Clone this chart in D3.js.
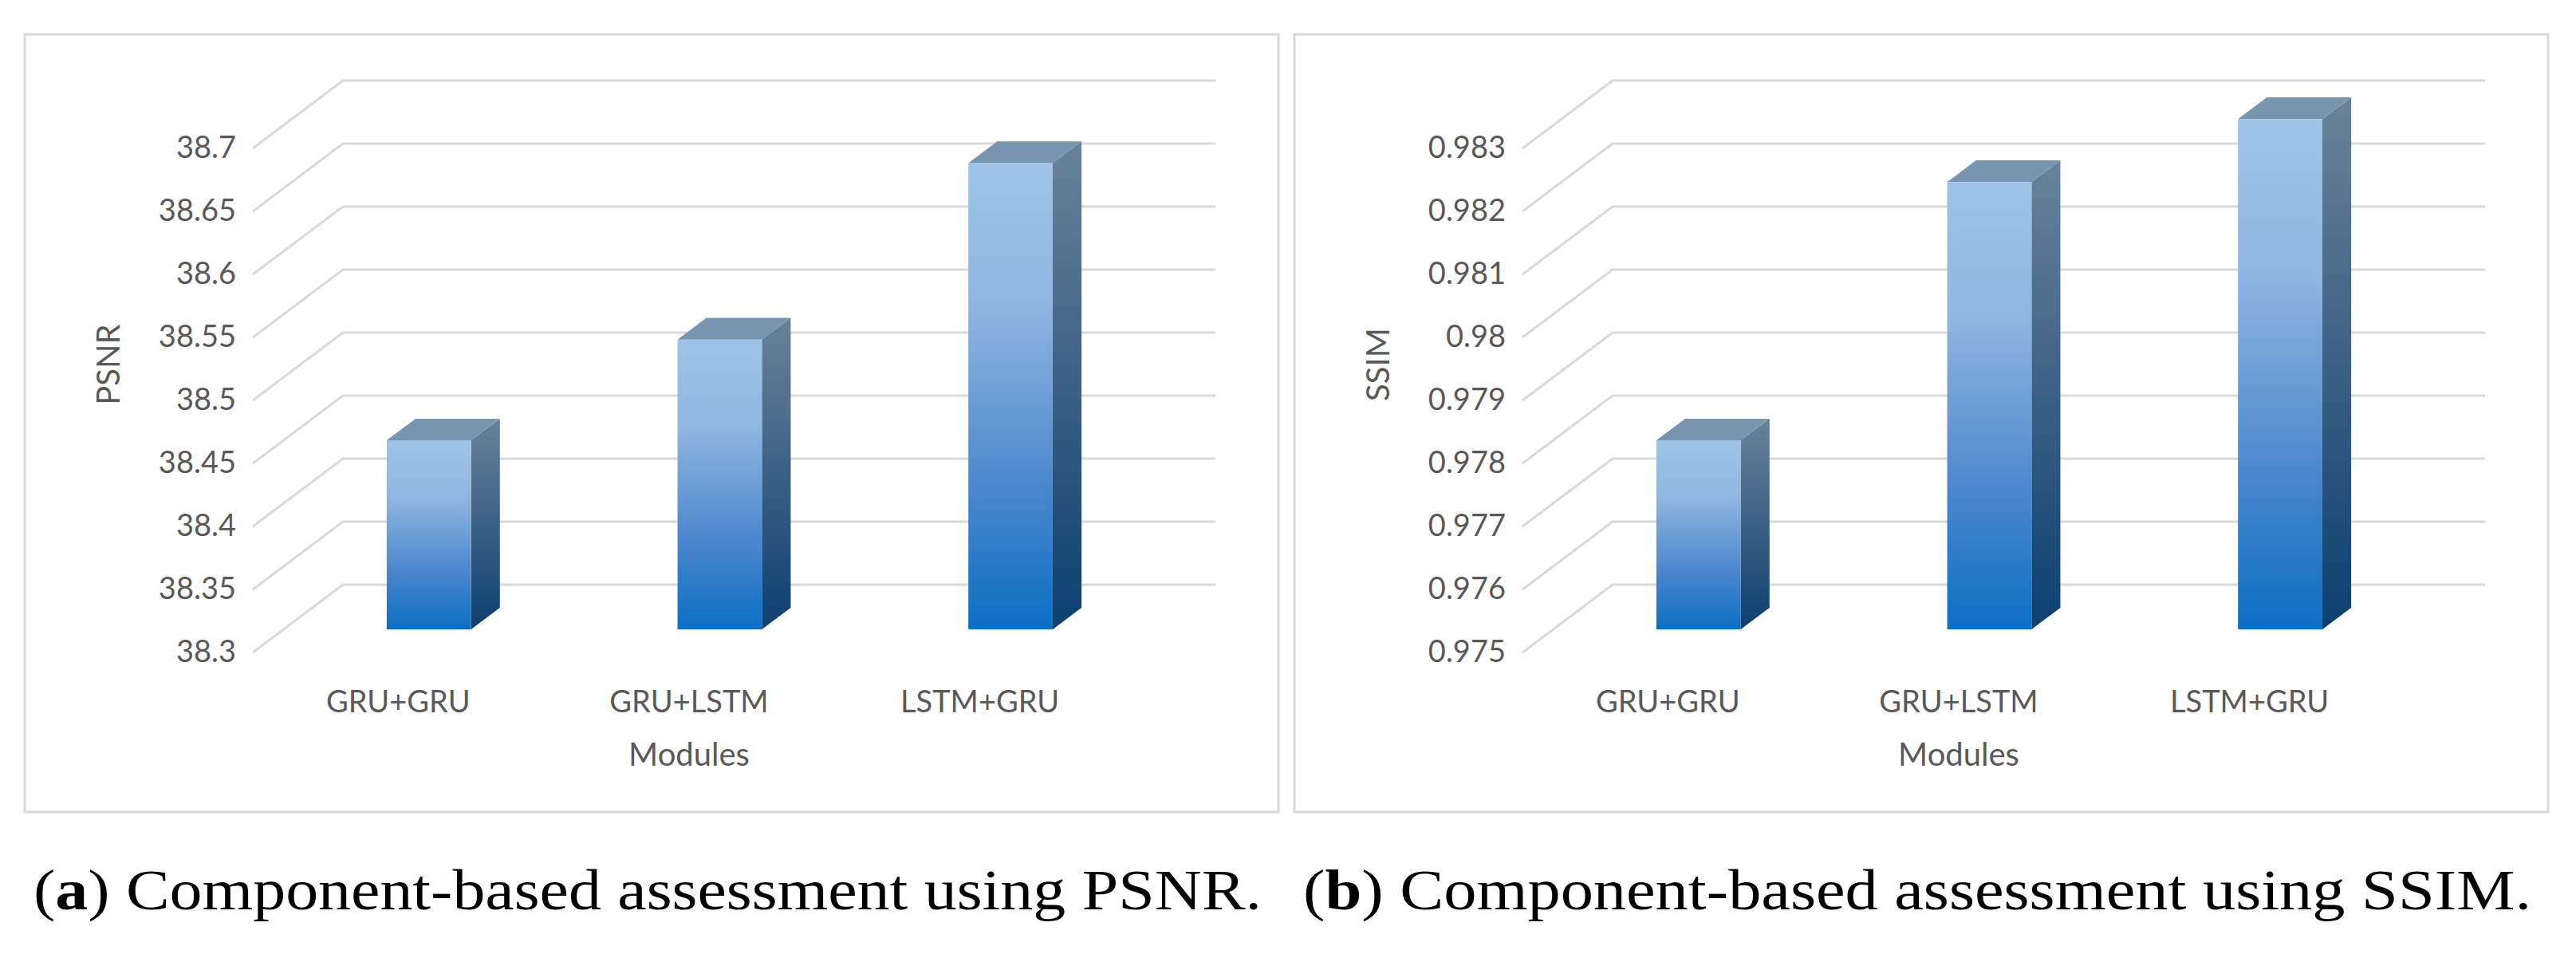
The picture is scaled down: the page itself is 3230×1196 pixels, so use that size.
<!DOCTYPE html>
<html><head><meta charset="utf-8">
<script src="https://cdn.jsdelivr.net/npm/d3@7"></script>
<style>body{margin:0;background:#fff}</style></head>
<body><svg id="c" width="3230" height="1196"></svg>
<script>
const categories = ["GRU+GRU", "GRU+LSTM", "LSTM+GRU"];
const psnrValues = [38.45, 38.53, 38.67];
const ssimValues = [0.978, 0.9821, 0.9831];
const psnrTicks = ["38.3","38.35","38.4","38.45","38.5","38.55","38.6","38.65","38.7"];
const ssimTicks = ["0.975","0.976","0.977","0.978","0.979","0.98","0.981","0.982","0.983"];

const svg = d3.select("#c");
const defs = svg.append("defs");
const gf = defs.append("linearGradient").attr("id","gFront").attr("x1",0).attr("y1",0).attr("x2",0).attr("y2",1);
gf.append("stop").attr("offset","0%").attr("stop-color","#9fc4e8");
gf.append("stop").attr("offset","30%").attr("stop-color","#8fb6e0");
gf.append("stop").attr("offset","70%").attr("stop-color","#4a86cc");
gf.append("stop").attr("offset","100%").attr("stop-color","#0b6fc4");
const gs = defs.append("linearGradient").attr("id","gSide").attr("x1",0).attr("y1",0).attr("x2",0).attr("y2",1);
gs.append("stop").attr("offset","0%").attr("stop-color","#6a8299");
gs.append("stop").attr("offset","100%").attr("stop-color","#0c3f70");

const DX = -113, DY = 85;
const FRONT = 0.66, BACK = 0.34;

function panel(ox, values, ticks, yLabel, capLetter, capText) {
  const g = svg.append("g").attr("transform", `translate(${ox},0)`);
  g.append("rect").attr("x",31).attr("y",43).attr("width",1572).attr("height",975)
    .attr("fill","#fff").attr("stroke","#d9d9d9").attr("stroke-width",3);
  const tv = ticks.map(Number);
  const y = d3.scaleLinear().domain([tv[0], tv[tv.length-1]]).range([733, 101]);
  const x = d3.scaleBand().domain(categories).range([430, 1524]).paddingInner(0.71).paddingOuter(0.355);
  const P = (xb, v, f) => [xb + DX*f, y(v) + DY*f];
  // gridlines
  tv.forEach(v => {
    const a = P(430, v, 1), b = P(430, v, 0), c = [1524, y(v)];
    g.append("path").attr("d", d3.line()([a,b,c])).attr("fill","none")
      .attr("stroke","#d9d9d9").attr("stroke-width",3);
  });
  // tick labels
  g.selectAll(".tk").data(ticks).join("text").attr("x", 296)
    .attr("y", d => y(+d) + DY + 12).attr("text-anchor","end")
    .attr("font-family","Lato, 'Open Sans', sans-serif").attr("font-size",38).attr("fill","#595959").text(d => d);
  // bars
  const base = tv[0];
  values.forEach((v, i) => {
    const x0 = x(categories[i]), x1 = x0 + x.bandwidth();
    const ftl = P(x0, v, FRONT), ftr = P(x1, v, FRONT), fbl = P(x0, base, FRONT), fbr = P(x1, base, FRONT);
    const btl = P(x0, v, BACK), btr = P(x1, v, BACK), bbr = P(x1, base, BACK);
    g.append("path").attr("d", d3.line()([ftr, btr, bbr, fbr]) + "Z").attr("fill","url(#gSide)");
    g.append("path").attr("d", d3.line()([ftl, ftr, btr, btl]) + "Z").attr("fill","#7895b0");
    g.append("path").attr("d", d3.line()([ftl, ftr, fbr, fbl]) + "Z").attr("fill","url(#gFront)");
  });
  // category labels
  categories.forEach(c => {
    const p = P(x(c) + x.bandwidth()/2, base, 1);
    g.append("text").attr("x", p[0]).attr("y", 893).attr("text-anchor","middle")
      .attr("font-family","Lato, 'Open Sans', sans-serif").attr("font-size",38).attr("fill","#595959").text(c);
  });
  g.append("text").attr("x", (430+1524)/2 + DX).attr("y", 960).attr("text-anchor","middle")
    .attr("font-family","Lato, 'Open Sans', sans-serif").attr("font-size",40).attr("fill","#595959").text("Modules");
  g.append("text").attr("transform","translate(150,457) rotate(-90)").attr("text-anchor","middle")
    .attr("font-family","Lato, 'Open Sans', sans-serif").attr("font-size",40).attr("fill","#595959").text(yLabel);
  const cap = g.append("text").attr("x", 812).attr("y", 1140).attr("text-anchor","middle")
    .attr("font-family","'Liberation Serif', serif").attr("font-size",72).attr("fill","#000")
    .attr("textLength",1540).attr("lengthAdjust","spacingAndGlyphs");
  cap.append("tspan").text("(");
  cap.append("tspan").attr("font-weight","bold").text(capLetter);
  cap.append("tspan").text(") " + capText);
}
panel(0, psnrValues, psnrTicks, "PSNR", "a", "Component-based assessment using PSNR.");
panel(1592, ssimValues, ssimTicks, "SSIM", "b", "Component-based assessment using SSIM.");
</script></body></html>
